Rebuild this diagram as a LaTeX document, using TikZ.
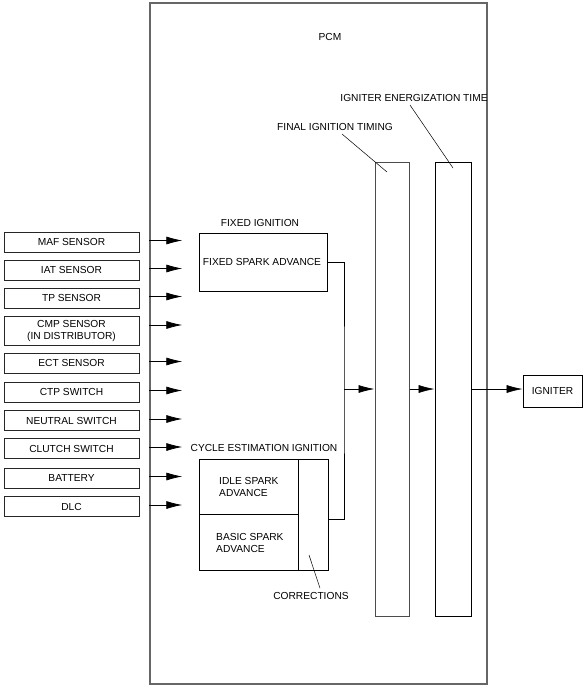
\documentclass[tikz,border=0pt]{standalone}
\usepackage{fontspec}
\setmainfont{Liberation Sans}
\usetikzlibrary{arrows.meta,calc}
\begin{document}
\begin{tikzpicture}[x=1pt,y=-1pt,
  every node/.style={font=\fontsize{10.2}{11.5}\selectfont},
  box/.style={draw=black!85,line width=0.8pt,inner sep=0pt,minimum width=135pt,minimum height=20pt},
  blk/.style={draw=black,line width=0.8pt,inner sep=0pt},
  lbl/.style={inner sep=0pt},
  conn/.style={line width=0.7pt},
  arr/.style={line width=0.7pt,-{Latex[length=16pt,width=8pt]}}]
\useasboundingbox (0,0) rectangle (585,688);
% PCM
\node[draw=black!60,line width=1.4pt,minimum width=337pt,minimum height=681pt,inner sep=0pt] (pcm) at (318.5,343.5) {};
\node[lbl] (pcmlbl) at (330,37) {PCM};
% sensors
\node[box] (maf) at (71.5,242) {MAF SENSOR};
\node[box] (iat) at (71.5,270) {IAT SENSOR};
\node[box] (tp) at (71.5,298) {TP SENSOR};
\node[box,minimum height=29pt,align=center] (cmp) at (71.5,331) {CMP SENSOR\\(IN DISTRIBUTOR)};
\node[box] (ect) at (71.5,363) {ECT SENSOR};
\node[box] (ctp) at (71.5,392) {CTP SWITCH};
\node[box] (neu) at (71.5,420.5) {NEUTRAL SWITCH};
\node[box] (clu) at (71.5,448.5) {CLUTCH SWITCH};
\node[box] (bat) at (71.5,478) {BATTERY};
\node[box] (dlc) at (71.5,506.5) {DLC};
\foreach \s in {maf,iat,tp,ect,ctp,neu,clu,bat,dlc}{
  \draw[arr] ($(pcm.west |- \s.east)+(0,-1.5)$) -- ++(33,0);
}
\draw[arr] ($(pcm.west |- cmp.east)+(0,-6)$) -- ++(33,0);
% fixed ignition
\node[lbl] (fixlbl) at (260,223) {FIXED IGNITION};
\node[blk,minimum width=128pt,minimum height=58pt] (fixed) at (263,262) {};
\node[lbl] (fixtxt) at (262,262) {FIXED SPARK ADVANCE};
% cycle estimation
\node[lbl] (cyclbl) at (264,448) {CYCLE ESTIMATION IGNITION};
\node[blk,minimum width=99pt,minimum height=55pt] (idle) at (248.5,486.5) {};
\node[blk,minimum width=99pt,minimum height=56pt] (basic) at (248.5,542) {};
\node[blk,minimum width=30pt,minimum height=111pt] (corr) at (313,514.5) {};
\node[lbl,align=left,anchor=west] (idletxt) at (219,487) {IDLE SPARK\\ADVANCE};
\node[lbl,align=left,anchor=west] (basictxt) at (216,543) {BASIC SPARK\\ADVANCE};
\node[lbl] (corrlbl) at (311,596) {CORRECTIONS};
\coordinate (corrpt) at (309,555);
\draw[line width=0.5pt] (corrpt) -- ($(corrlbl.north)+(9,-4)$);
% bars
\node[draw=black!70,line width=1pt,inner sep=0pt,minimum width=34pt,minimum height=454pt] (final) at (392,389) {};
\node[blk,minimum width=36pt,minimum height=454pt] (energ) at (453,389) {};
\node[lbl] (finlbl) at (335,127) {FINAL IGNITION TIMING};
\node[lbl] (enlbl) at (414,98) {IGNITER ENERGIZATION TIME};
\coordinate (finpt) at (387,172);
\coordinate (enpt) at (453,168);
\draw[line width=0.5pt] (342,134) -- (finpt);
\draw[line width=0.5pt] (410,105) -- (enpt);
% igniter
\node[blk,minimum width=59pt,minimum height=32pt] (ign) at (552.5,391) {IGNITER};
% connectors
\coordinate (j) at (344,389);
\draw[conn] (fixed.east) -| (j) |- ($(corr.east)+(0,4.5)$);
\draw[arr] (j) -- (final.west);
\draw[arr] (final.east) -- (energ.west);
\draw[arr] (energ.east) -- (ign.west |- energ.east);
\end{tikzpicture}
\end{document}
